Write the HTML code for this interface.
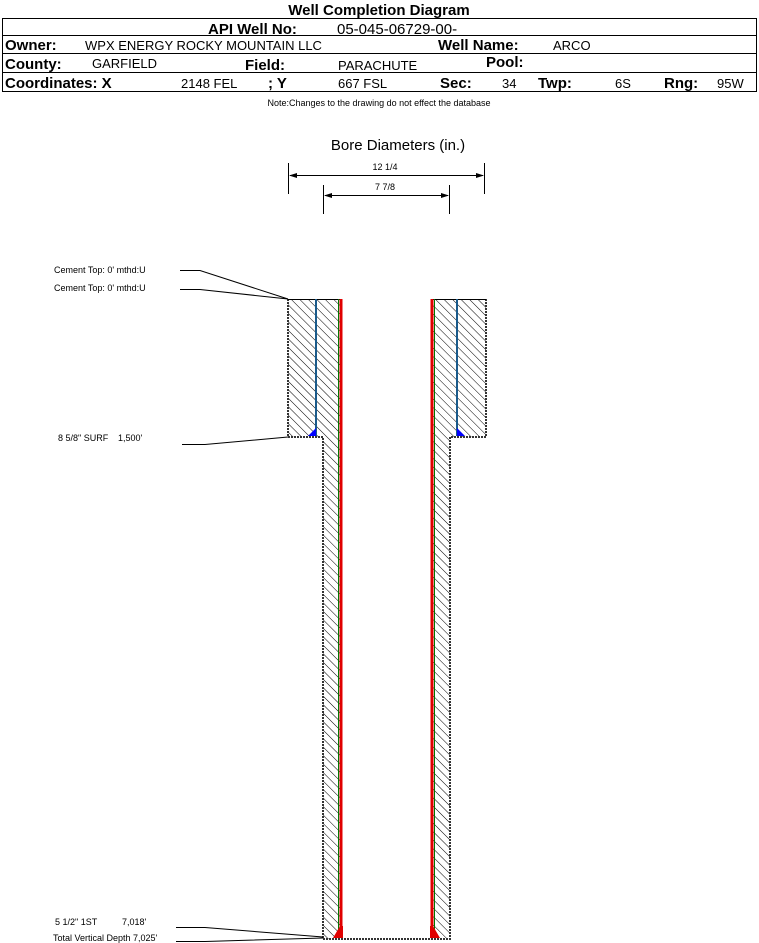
<!DOCTYPE html>
<html><head><meta charset="utf-8"><style>
html,body{margin:0;padding:0;background:#fff;}
body{width:759px;height:943px;position:relative;overflow:hidden;font-family:"Liberation Sans",sans-serif;}
</style></head><body>
<svg width="759" height="943" xmlns="http://www.w3.org/2000/svg" style="position:absolute;left:0;top:0" font-family="Liberation Sans, sans-serif">
<defs>
<pattern id="h" patternUnits="userSpaceOnUse" width="6" height="6" patternTransform="rotate(-45)">
<line x1="0" y1="0" x2="0" y2="6" stroke="#000" stroke-width="1"/>
</pattern>
</defs>
<text x="379" y="15" font-size="15" font-weight="bold" text-anchor="middle">Well Completion Diagram</text>
<rect x="2.5" y="18.5" width="754" height="73" fill="none" stroke="#000" stroke-width="1"/>
<line x1="2" y1="35.5" x2="757" y2="35.5" stroke="#000"/>
<line x1="2" y1="53.5" x2="757" y2="53.5" stroke="#000"/>
<line x1="2" y1="72.5" x2="757" y2="72.5" stroke="#000"/>
<text x="208" y="34" font-size="15" font-weight="bold">API Well No:</text>
<text x="337" y="34" font-size="15">05-045-06729-00-</text>
<text x="5" y="50" font-size="15" font-weight="bold">Owner:</text>
<text x="85" y="50" font-size="13">WPX ENERGY ROCKY MOUNTAIN LLC</text>
<text x="438" y="50" font-size="15" font-weight="bold">Well Name:</text>
<text x="553" y="50" font-size="13">ARCO</text>
<text x="5" y="69" font-size="15" font-weight="bold">County:</text>
<text x="92" y="68" font-size="13">GARFIELD</text>
<text x="245" y="70" font-size="15" font-weight="bold">Field:</text>
<text x="338" y="70" font-size="13">PARACHUTE</text>
<text x="486" y="67" font-size="15" font-weight="bold">Pool:</text>
<text x="5" y="88" font-size="15" font-weight="bold">Coordinates: X</text>
<text x="181" y="88" font-size="13">2148 FEL</text>
<text x="268" y="88" font-size="15" font-weight="bold">; Y</text>
<text x="338" y="88" font-size="13">667 FSL</text>
<text x="440" y="88" font-size="15" font-weight="bold">Sec:</text>
<text x="502" y="88" font-size="13">34</text>
<text x="538" y="88" font-size="15" font-weight="bold">Twp:</text>
<text x="615" y="88" font-size="13">6S</text>
<text x="664" y="88" font-size="15" font-weight="bold">Rng:</text>
<text x="717" y="88" font-size="13">95W</text>
<text x="379" y="106" font-size="9" text-anchor="middle">Note:Changes to the drawing do not effect the database</text>

<text x="398" y="150" font-size="15" text-anchor="middle">Bore Diameters (in.)</text>
<text x="385" y="170" font-size="9" text-anchor="middle">12 1/4</text>
<text x="385" y="190" font-size="9" text-anchor="middle">7 7/8</text>
<g stroke="#000" stroke-width="1">
<line x1="288.5" y1="163" x2="288.5" y2="194"/>
<line x1="484.5" y1="163" x2="484.5" y2="194"/>
<line x1="290" y1="175.5" x2="483" y2="175.5"/>
<line x1="323.5" y1="185" x2="323.5" y2="214"/>
<line x1="449.5" y1="185" x2="449.5" y2="214"/>
<line x1="325" y1="195.5" x2="448" y2="195.5"/>
</g>
<polygon points="289,175.5 297,173 297,178" fill="#000"/>
<polygon points="484,175.5 476,173 476,178" fill="#000"/>
<polygon points="324,195.5 332,193 332,198" fill="#000"/>
<polygon points="449,195.5 441,193 441,198" fill="#000"/>

<path d="M288,299 H340 V939 H323 V437 H288 Z" fill="url(#h)" stroke="none"/>
<path d="M433,299 H486 V437 H450 V939 H433 Z" fill="url(#h)" stroke="none"/>
<g fill="none" stroke="#333" stroke-width="2" stroke-dasharray="2,1">
<path d="M288,299 V437 H323 V939 H450 V437 H486 V299"/>
</g>
<line x1="288" y1="299.5" x2="342" y2="299.5" stroke="#000"/>
<line x1="431" y1="299.5" x2="486" y2="299.5" stroke="#000"/>
<line x1="316" y1="299" x2="316" y2="436" stroke="#1a5a8a" stroke-width="2"/>
<line x1="457" y1="299" x2="457" y2="436" stroke="#1a5a8a" stroke-width="2"/>
<polygon points="316,428 316,436 308,436" fill="#0000ff"/>
<polygon points="457,428 457,436 465,436" fill="#0000ff"/>
<rect x="339.5" y="299" width="3" height="638" fill="#e00000"/>
<line x1="338.5" y1="299" x2="338.5" y2="937" stroke="#007700" stroke-width="1"/>
<rect x="430.5" y="299" width="3" height="638" fill="#e00000"/>
<line x1="434.5" y1="299" x2="434.5" y2="937" stroke="#007700" stroke-width="1"/>
<polygon points="340,926 343,926 343,938 333,938" fill="#e00000"/>
<polygon points="430,926 433,926 440,938 430,938" fill="#e00000"/>

<g font-size="9">
<text x="54" y="273">Cement Top: 0' mthd:U</text>
<text x="54" y="291">Cement Top: 0' mthd:U</text>
<text x="58" y="441">8 5/8" SURF</text>
<text x="118" y="441">1,500'</text>
<text x="55" y="925">5 1/2" 1ST</text>
<text x="122" y="925">7,018'</text>
<text x="53" y="941">Total Vertical Depth 7,025'</text>
</g>
<g stroke="#000" stroke-width="1" fill="none">
<polyline points="180,270.5 200,270.5 288,299"/>
<polyline points="180,289.5 200,289.5 288,299"/>
<polyline points="182,444.5 205,444.5 288,437"/>
<polyline points="176,927.5 205,927.5 323,937"/>
<polyline points="176,941.5 205,941.5 323,938"/>
</g>
</svg>
</body></html>
